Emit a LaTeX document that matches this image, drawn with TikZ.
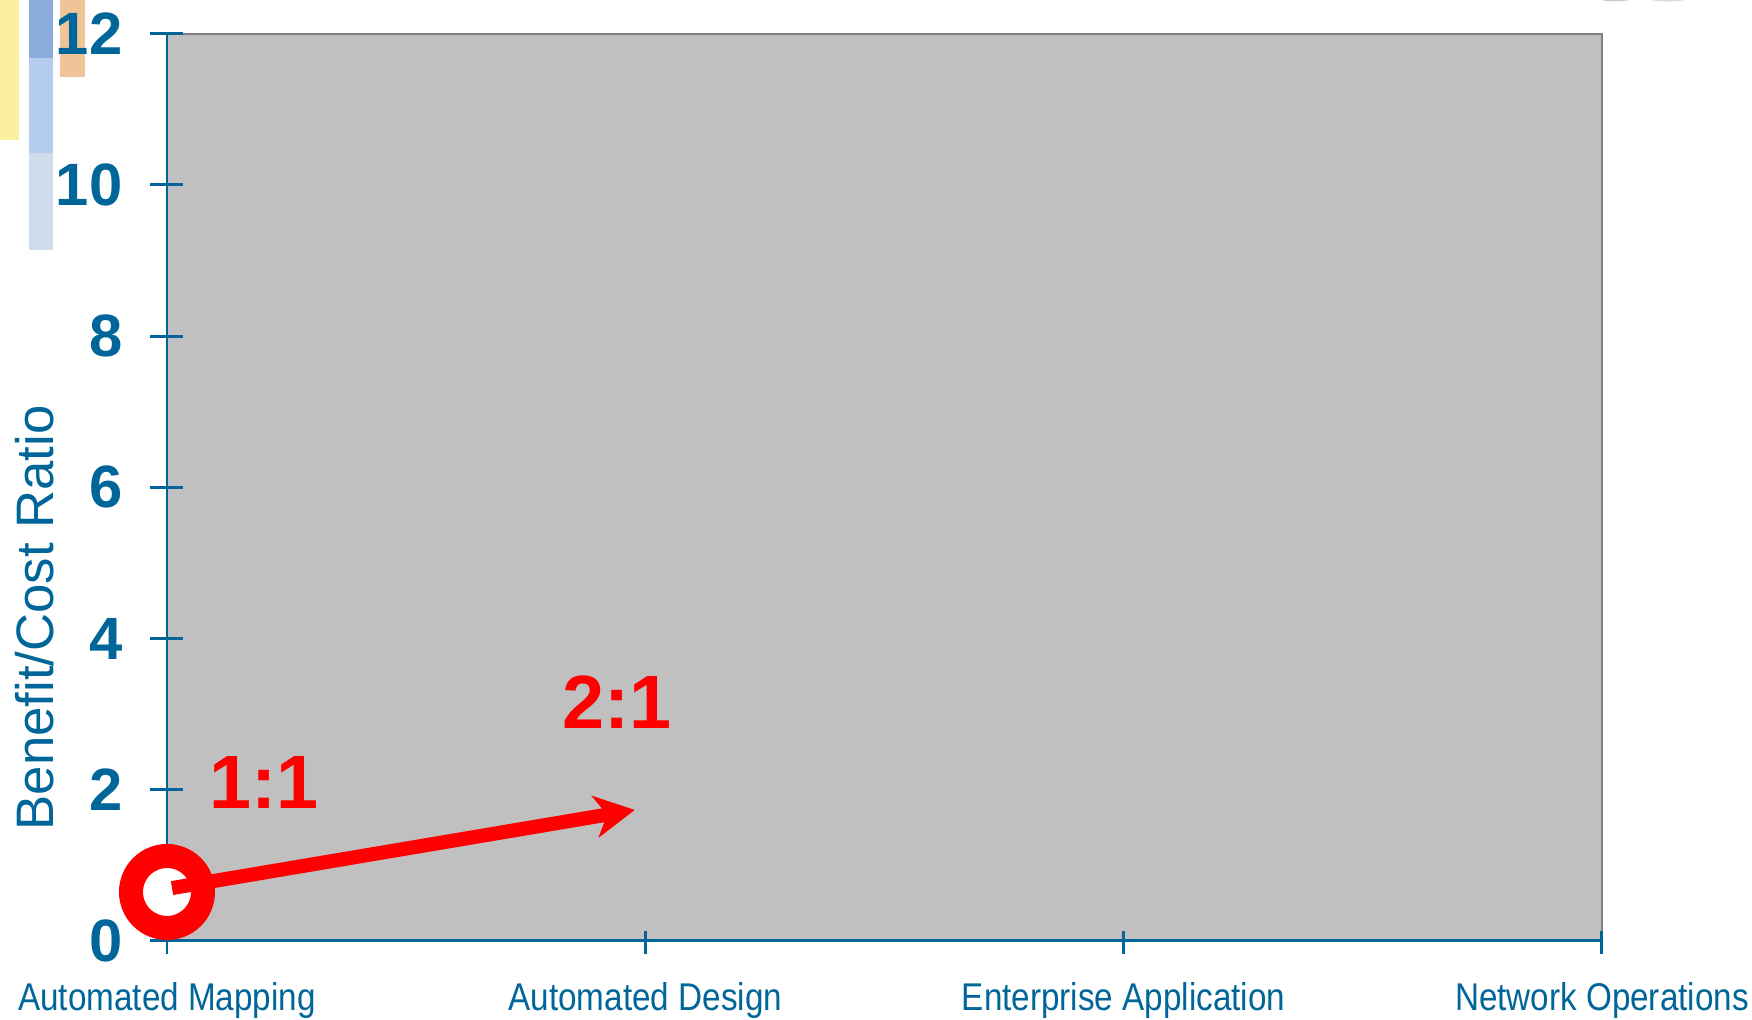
\documentclass[tikz,border=0pt]{standalone}
\usepackage{fontspec}
\setmainfont{Liberation Sans}
\usetikzlibrary{arrows.meta}
\definecolor{axisblue}{RGB}{0,102,153}
\definecolor{plotgrey}{RGB}{192,192,192}
\definecolor{edgegrey}{RGB}{128,128,128}
\definecolor{baryellow}{RGB}{250,240,160}
\definecolor{barblueA}{RGB}{140,172,222}
\definecolor{barblueB}{RGB}{180,205,236}
\definecolor{barblueC}{RGB}{208,220,236}
\definecolor{barorange}{RGB}{240,196,150}
\tikzset{
  ticknum/.style={anchor=east, inner sep=0pt, text=axisblue, font=\fontsize{17}{20}\selectfont\bfseries},
  catlabel/.style={anchor=base, inner sep=0pt, text=axisblue, xscale=0.86, font=\fontsize{11}{13}\selectfont},
  ylabel/.style={anchor=base, rotate=90, inner sep=0pt, text=axisblue, font=\fontsize{15}{18}\selectfont},
  ratio/.style={inner sep=0pt, text=red, font=\fontsize{21.5}{24}\selectfont\bfseries},
  axisline/.style={draw=axisblue, line width=0.85pt},
  ring/.style={circle, draw=red, fill=white, line width=0.24cm, minimum size=0.72cm, inner sep=0pt},
  ratioarrow/.style={draw=red, line width=4pt, -{Stealth[length=0.4cm, width=0.42cm, inset=0.12cm]}},
}
\begin{document}
\begin{tikzpicture}
    \useasboundingbox (0,0) rectangle (17.52,10.2);
    % template bars, top left
    \fill[baryellow] (0,8.80) rectangle (0.19,10.2);
    \fill[barblueA] (0.29,9.62) rectangle (0.53,10.2);
    \fill[barblueB] (0.29,8.67) rectangle (0.53,9.62);
    \fill[barblueC] (0.29,7.70) rectangle (0.53,8.67);
    \fill[barorange] (0.60,9.43) rectangle (0.85,10.2);
    \fill[black!20] (16.15,10.22) ellipse (0.17 and 0.035);
    \fill[black!15] (16.68,10.22) ellipse (0.20 and 0.035);
    \node[ylabel] (ylab) at (0.53,4.02) {Benefit/Cost Ratio};
    \begin{scope}[shift={(1.67,0.79)}, x=4.783cm, y=0.756cm]
    %% plot area
    \fill[plotgrey] (0,0) rectangle (3,12);
    \draw[edgegrey, line width=0.6pt] (0,12) -- (3,12) -- (3,0);
    \draw[axisline] (0,0) -- (0,12);
    \draw[axisline] (0,0) -- (3,0);
    % value axis
    \foreach \y in {0,2,...,12} {
        \draw[axisline] ([xshift=-0.17cm]0,\y) -- ([xshift=0.16cm]0,\y);
        \node[ticknum] (t\y) at ([xshift=-0.44cm]0,\y) {\y};
    }
    % categories
    \foreach \x/\name/\txt in {0/map/Automated Mapping, 1/design/Automated Design, 2/enterprise/Enterprise Application, 3/network/Network Operations} {
        \draw[axisline] ([yshift=0.10cm]\x,0) -- ([yshift=-0.13cm]\x,0);
        \node[catlabel] (\name) at ([yshift=-0.70cm]\x,0) {\txt};
    }
    % ratios
    \node[ring] (start) at (0,0.648) {};
    \coordinate (tail) at (0.0105,0.70);
    \coordinate (head) at (0.978,1.733);
    \draw[ratioarrow] (tail) -- (head);
    \node[ratio] (r1) at (0.203,2.10) {1:1};
    \node[ratio] (r2) at (0.941,3.16) {2:1};
    \end{scope}
\end{tikzpicture}
\end{document}
